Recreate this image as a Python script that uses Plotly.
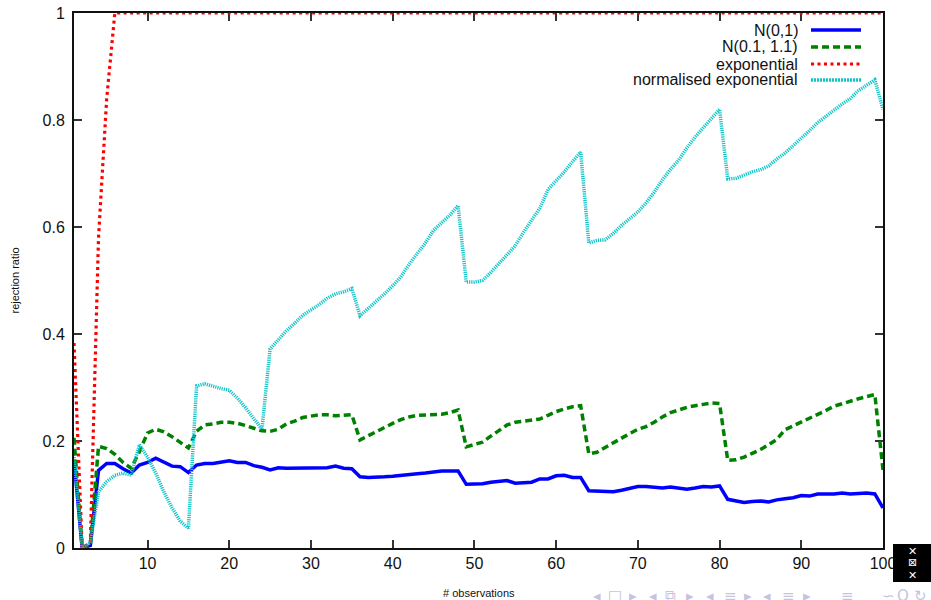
import plotly.graph_objects as go

# ---------------- data ----------------
n_obs = list(range(1, 101))

norm_01 = [
    0.166, 0.0, 0.005, 0.145, 0.158, 0.158, 0.148, 0.140, 0.155, 0.160,
    0.168, 0.160, 0.153, 0.152, 0.141, 0.155, 0.158, 0.158, 0.161, 0.163,
    0.160, 0.160, 0.154, 0.151, 0.146, 0.150, 0.149, 0.149, 0.149, 0.150,
    0.150, 0.150, 0.153, 0.149, 0.148, 0.133, 0.132, 0.132, 0.133, 0.134,
    0.136, 0.138, 0.139, 0.140, 0.142, 0.144, 0.144, 0.144, 0.119, 0.119,
    0.120, 0.123, 0.124, 0.126, 0.121, 0.122, 0.123, 0.129, 0.129, 0.135,
    0.136, 0.132, 0.132, 0.107, 0.106, 0.105, 0.105, 0.108, 0.112, 0.115,
    0.115, 0.114, 0.112, 0.114, 0.112, 0.110, 0.112, 0.115, 0.114, 0.116,
    0.091, 0.088, 0.085, 0.087, 0.088, 0.086, 0.090, 0.092, 0.094, 0.098,
    0.097, 0.101, 0.101, 0.101, 0.103, 0.101, 0.102, 0.103, 0.101, 0.075,
]

norm_shift = [
    0.206, 0.0, 0.005, 0.190, 0.186, 0.175, 0.160, 0.149, 0.180, 0.215,
    0.222, 0.217, 0.208, 0.197, 0.187, 0.218, 0.230, 0.232, 0.235, 0.235,
    0.233, 0.229, 0.224, 0.219, 0.218, 0.222, 0.232, 0.237, 0.244, 0.246,
    0.249, 0.249, 0.247, 0.248, 0.249, 0.202, 0.210, 0.217, 0.225, 0.233,
    0.240, 0.245, 0.248, 0.249, 0.250, 0.250, 0.253, 0.258, 0.189, 0.193,
    0.198, 0.209, 0.220, 0.230, 0.235, 0.237, 0.240, 0.241, 0.248, 0.255,
    0.260, 0.264, 0.266, 0.176, 0.179, 0.188, 0.196, 0.205, 0.214, 0.222,
    0.227, 0.235, 0.245, 0.253, 0.258, 0.263, 0.266, 0.269, 0.271, 0.270,
    0.164, 0.165, 0.170, 0.177, 0.184, 0.193, 0.203, 0.221, 0.228, 0.236,
    0.242, 0.249, 0.257, 0.265, 0.270, 0.274, 0.279, 0.283, 0.287, 0.146,
]

exponential = [
    0.383, 0.0, 0.010, 0.580, 0.840, 1.0, 1.0, 1.0, 1.0, 1.0,
    1.0, 1.0, 1.0, 1.0, 1.0, 1.0, 1.0, 1.0, 1.0, 1.0,
    1.0, 1.0, 1.0, 1.0, 1.0, 1.0, 1.0, 1.0, 1.0, 1.0,
    1.0, 1.0, 1.0, 1.0, 1.0, 1.0, 1.0, 1.0, 1.0, 1.0,
    1.0, 1.0, 1.0, 1.0, 1.0, 1.0, 1.0, 1.0, 1.0, 1.0,
    1.0, 1.0, 1.0, 1.0, 1.0, 1.0, 1.0, 1.0, 1.0, 1.0,
    1.0, 1.0, 1.0, 1.0, 1.0, 1.0, 1.0, 1.0, 1.0, 1.0,
    1.0, 1.0, 1.0, 1.0, 1.0, 1.0, 1.0, 1.0, 1.0, 1.0,
    1.0, 1.0, 1.0, 1.0, 1.0, 1.0, 1.0, 1.0, 1.0, 1.0,
    1.0, 1.0, 1.0, 1.0, 1.0, 1.0, 1.0, 1.0, 1.0, 1.0,
]

norm_exponential = [
    0.170, 0.0, 0.010, 0.105, 0.124, 0.136, 0.140, 0.136, 0.193, 0.170,
    0.140, 0.105, 0.075, 0.050, 0.037, 0.303, 0.307, 0.302, 0.298, 0.295,
    0.280, 0.262, 0.242, 0.222, 0.372, 0.390, 0.406, 0.420, 0.435, 0.445,
    0.455, 0.467, 0.475, 0.479, 0.485, 0.434, 0.447, 0.460, 0.475, 0.490,
    0.507, 0.530, 0.550, 0.570, 0.594, 0.607, 0.622, 0.640, 0.497, 0.497,
    0.500, 0.515, 0.532, 0.548, 0.565, 0.590, 0.612, 0.635, 0.670, 0.686,
    0.703, 0.722, 0.740, 0.570, 0.575, 0.576, 0.588, 0.603, 0.615, 0.628,
    0.645, 0.665, 0.688, 0.708, 0.725, 0.748, 0.768, 0.785, 0.803, 0.820,
    0.690, 0.691, 0.697, 0.703, 0.707, 0.714, 0.727, 0.738, 0.752, 0.765,
    0.780, 0.795, 0.807, 0.820, 0.830, 0.840, 0.855, 0.865, 0.875, 0.820,
]

series_names = ["N(0,1)", "N(0.1, 1.1)", "exponential", "normalised exponential"]
x_ticks = [10, 20, 30, 40, 50, 60, 70, 80, 90, 100]
y_ticks = [0, 0.2, 0.4, 0.6, 0.8, 1]
y_tick_labels = ["0", "0.2", "0.4", "0.6", "0.8", "1"]
x_title = "# observations"
y_title = "rejection ratio"

# ---------------- style ----------------
W, H = 931, 600
ML, MR, MT, MB = 74, 48, 13, 52
PW, PH = W - ML - MR, H - MT - MB
FONT = "Liberation Sans, Arial, Helvetica, sans-serif"

styles = [
    dict(color="#0000ff", width=3.5, dash="solid"),
    dict(color="#008000", width=3.5, dash="7px,4px"),
    dict(color="#ff0000", width=3.2, dash="3px,3.5px"),
    dict(color="#10c4c8", width=3.5, dash="1.2px,1px"),
]
key_dash = ["solid", "7px,4px", "3px,3.5px", "2px,1px"]
series = [norm_01, norm_shift, exponential, norm_exponential]


def px(xp):
    return (xp - ML) / PW


def py(yp):
    return (H - MB - yp) / PH


fig = go.Figure()
for name, vals, st in zip(series_names, series, styles):
    fig.add_trace(go.Scatter(x=n_obs, y=vals, mode="lines", name=name,
                             line=st, cliponaxis=False, showlegend=False))

axis_common = dict(
    showgrid=False, zeroline=False, showline=True, linecolor="#111",
    linewidth=2, mirror="ticks", ticks="inside", ticklen=8, tickwidth=1.5,
    tickcolor="#333", tickfont=dict(family=FONT, size=16, color="#111"),
    layer="below traces", automargin=False,
)

fig.update_xaxes(range=[1, 100], tickvals=x_ticks, **axis_common)
fig.update_yaxes(range=[0, 1], tickvals=y_ticks, ticktext=y_tick_labels,
                 ticklabelstandoff=4, **axis_common)

annotations = []
shapes = []

# manual gnuplot-style key: text right-aligned, sample to the right
key_rows = [30, 47, 64, 80]
for name, st, kd, yrow in zip(series_names, styles, key_dash, key_rows):
    annotations.append(dict(x=px(799), y=py(yrow), xref="paper", yref="paper",
                            text=name, showarrow=False, xanchor="right",
                            yanchor="middle", borderpad=0,
                            font=dict(family=FONT, size=16, color="#111")))
    shapes.append(dict(type="line", xref="paper", yref="paper",
                       x0=px(811), x1=px(861), y0=py(yrow), y1=py(yrow),
                       line=dict(color=st["color"], width=st["width"],
                                 dash=kd)))

# axis titles
annotations.append(dict(x=0.5, y=py(593), xref="paper", yref="paper",
                        text=x_title, showarrow=False, xanchor="center",
                        yanchor="middle",
                        font=dict(family=FONT, size=11, color="#111")))
annotations.append(dict(x=px(14), y=0.5, xref="paper", yref="paper",
                        text=y_title, showarrow=False, textangle=-90,
                        xanchor="center", yanchor="middle",
                        font=dict(family=FONT, size=11, color="#111")))

# slide decorations: logo box and navigation symbols
shapes.append(dict(type="rect", xref="paper", yref="paper", layer="above",
                   x0=px(893), x1=px(932), y0=py(544), y1=py(582),
                   fillcolor="black", line=dict(width=0)))
for glyph, yy in [("✕", 551), ("⊠", 563), ("✕", 575)]:
    annotations.append(dict(x=px(912), y=py(yy), xref="paper", yref="paper",
                            text=glyph, showarrow=False, xanchor="center",
                            yanchor="middle", borderpad=0,
                            font=dict(family="DejaVu Sans", size=11,
                                      color="white")))

nav = [("◂", 597), ("□", 615), ("▸", 633), ("◂", 653), ("⧉", 670),
       ("▸", 690), ("◂", 710), ("≡", 730), ("▸", 748), ("◂", 767),
       ("≡", 788), ("▸", 807), ("≡", 847), ("∽", 888), ("Q", 903),
       ("↻", 920)]
for glyph, xx in nav:
    annotations.append(dict(x=px(xx), y=py(585), xref="paper", yref="paper",
                            text=glyph, showarrow=False, xanchor="center",
                            yanchor="top",
                            font=dict(family="DejaVu Sans", size=15,
                                      color="#c4c4de")))

fig.update_layout(
    width=W, height=H,
    margin=dict(l=ML, r=MR, t=MT, b=MB),
    paper_bgcolor="white", plot_bgcolor="white",
    showlegend=False,
    annotations=annotations, shapes=shapes,
    font=dict(family=FONT),
)

fig.write_html("out.html")
